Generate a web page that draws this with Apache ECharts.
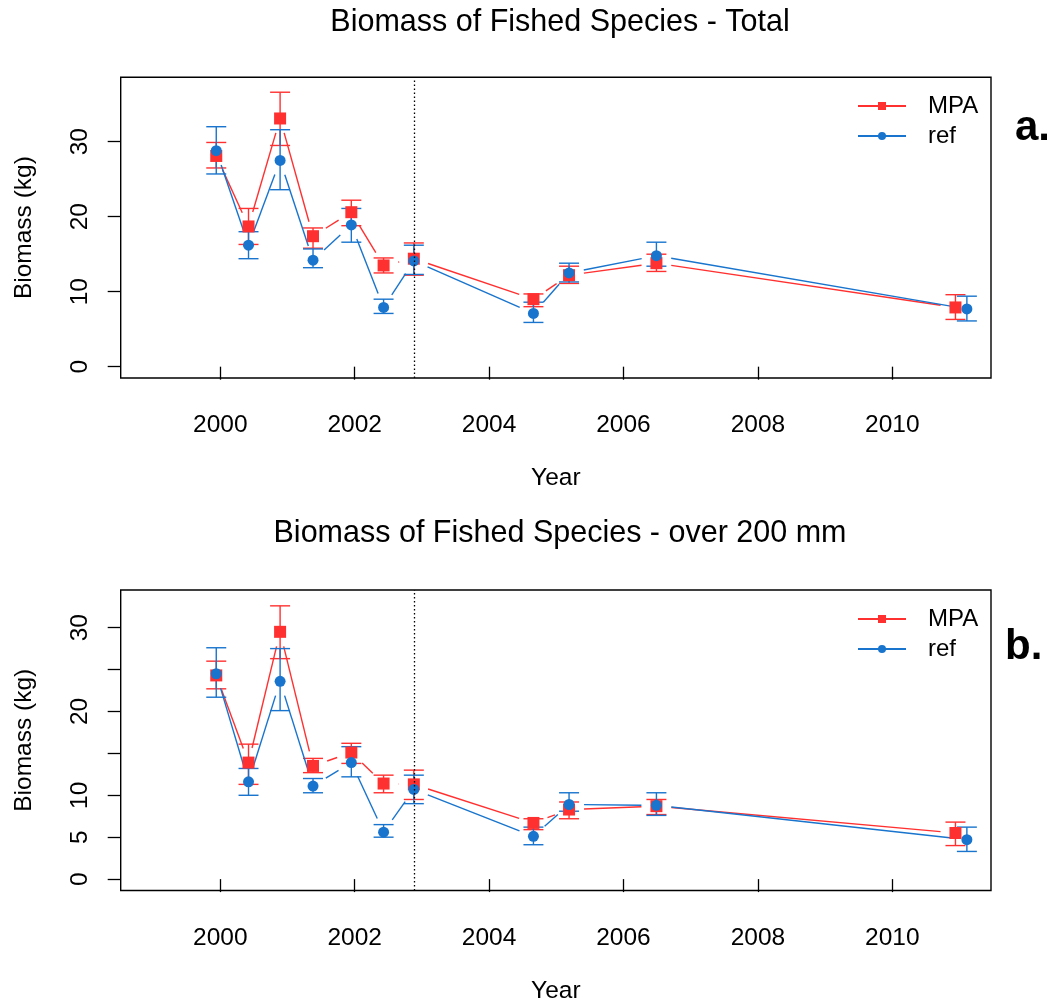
<!DOCTYPE html>
<html>
<head>
<meta charset="utf-8">
<script src="https://cdn.jsdelivr.net/npm/echarts@6/dist/echarts.min.js"></script>
<style>
html,body{margin:0;padding:0;background:#fff;}
#chart{width:1055px;height:1005px;}
</style>
</head>
<body>
<div id="chart"></div>
<script>
// ---- data ----
const yearsMPA = [1999.94, 2000.42, 2000.89, 2001.38, 2001.95, 2002.43, 2002.88, 2004.66, 2005.19, 2006.49, 2010.94];
const yearsRef = [1999.94, 2000.42, 2000.89, 2001.38, 2001.95, 2002.43, 2002.88, 2004.66, 2005.19, 2006.49, 2011.11];
const treatYear = 2002.875;

const mpaTotal   = [28.1, 18.7, 33.1, 17.4, 20.6, 13.5, 14.4, 9.0, 12.2, 13.8, 7.9];
const mpaTotalLo = [26.5, 16.3, 29.5, 15.8, 18.8, 12.5, 12.2, 8.0, 11.1, 12.7, 6.3];
const mpaTotalHi = [29.9, 21.1, 36.6, 18.5, 22.2, 14.5, 16.5, 9.7, 13.4, 15.0, 9.6];
const refTotal   = [28.8, 16.2, 27.5, 14.2, 18.9, 7.9, 14.1, 7.1, 12.5, 14.8, 7.7];
const refTotalLo = [25.7, 14.4, 23.6, 13.2, 16.6, 7.1, 12.3, 5.9, 11.3, 13.4, 6.1];
const refTotalHi = [32.0, 18.0, 31.6, 15.7, 21.1, 9.0, 16.2, 8.6, 13.8, 16.6, 9.4];

const mpa200   = [24.3, 13.9, 29.5, 13.5, 15.1, 11.4, 11.3, 6.7, 8.3, 8.7, 5.5];
const mpa200Lo = [22.7, 11.3, 26.3, 12.7, 13.8, 10.3, 9.5, 5.9, 7.2, 7.7, 4.0];
const mpa200Hi = [26.0, 16.1, 32.6, 14.4, 16.2, 12.4, 13.0, 7.2, 9.2, 9.5, 6.8];
const ref200   = [24.5, 11.6, 23.6, 11.1, 13.9, 5.6, 10.7, 5.1, 8.9, 8.8, 4.7];
const ref200Lo = [21.7, 10.0, 20.1, 10.3, 12.2, 5.0, 9.0, 4.1, 8.1, 7.6, 3.3];
const ref200Hi = [27.6, 13.2, 27.5, 12.0, 15.8, 6.5, 12.4, 6.2, 10.3, 10.3, 6.2];

const xTicks = [2000, 2002, 2004, 2006, 2008, 2010];
const yTicksTop = [0, 10, 20, 30];
const yTicksBottom = [0, 5, 10, 15, 20, 25, 30];
const yLabelsBottom = [0, 5, 10, 20, 30];

const titles = ['Biomass of Fished Species - Total', 'Biomass of Fished Species - over 200 mm'];
const panelTags = ['a.', 'b.'];

// ---- styles ----
const RED = '#FF3030';
const BLUE = '#1874CD';
const FONT = 'Liberation Sans';
const GAP = 15;

function zip(x, y) { return x.map((v, i) => [v, y[i]]); }
function segs(x, y) {
  const out = [];
  for (let i = 0; i < x.length - 1; i++) out.push([x[i], y[i], x[i + 1], y[i + 1]]);
  return out;
}
function errs(x, lo, hi) { return x.map((v, i) => [v, lo[i], hi[i]]); }

function segSeries(x, y, color, gi) {
  return {
    type: 'custom', xAxisIndex: gi, yAxisIndex: gi, silent: true,
    data: segs(x, y),
    encode: { x: [0, 2], y: [1, 3] },
    renderItem: function (params, api) {
      const p1 = api.coord([api.value(0), api.value(1)]);
      const p2 = api.coord([api.value(2), api.value(3)]);
      const dx = p2[0] - p1[0], dy = p2[1] - p1[1];
      const d = Math.sqrt(dx * dx + dy * dy);
      if (d <= 2 * GAP) return null;
      const ux = dx / d, uy = dy / d;
      return {
        type: 'line',
        shape: { x1: p1[0] + ux * GAP, y1: p1[1] + uy * GAP, x2: p2[0] - ux * GAP, y2: p2[1] - uy * GAP },
        style: { stroke: color, lineWidth: 1.4 }
      };
    }
  };
}
function errSeries(x, lo, hi, color, gi) {
  return {
    type: 'custom', xAxisIndex: gi, yAxisIndex: gi, silent: true,
    data: errs(x, lo, hi),
    encode: { x: 0, y: [1, 2] },
    renderItem: function (params, api) {
      const a = api.coord([api.value(0), api.value(1)]);
      const b = api.coord([api.value(0), api.value(2)]);
      const hw = 10;
      const st = { stroke: color, lineWidth: 1.4 };
      return {
        type: 'group',
        children: [
          { type: 'line', shape: { x1: a[0], y1: a[1], x2: b[0], y2: b[1] }, style: st },
          { type: 'line', shape: { x1: a[0] - hw, y1: a[1], x2: a[0] + hw, y2: a[1] }, style: st },
          { type: 'line', shape: { x1: b[0] - hw, y1: b[1], x2: b[0] + hw, y2: b[1] }, style: st }
        ]
      };
    }
  };
}
function markerSeries(name, x, y, color, symbol, size, gi, withLine) {
  const s = {
    name: name, type: 'line', xAxisIndex: gi, yAxisIndex: gi,
    data: zip(x, y), symbol: symbol, symbolSize: size, showSymbol: true,
    itemStyle: { color: color },
    lineStyle: { color: color, width: 0, opacity: 0 },
    silent: true
  };
  if (withLine) {
    s.markLine = {
      silent: true, symbol: 'none', label: { show: false },
      lineStyle: { type: [1.5, 2.5], color: '#000', width: 1.3 },
      data: [{ xAxis: treatYear }]
    };
  }
  return s;
}

const grids = [
  { left: 120.7, top: 77.3, width: 870.3, height: 300.7 },
  { left: 120.7, top: 590, width: 870.3, height: 300.5 }
];
const axisText = { fontFamily: FONT, fontSize: 24.5, color: '#000' };

const option = {
  animation: false,
  backgroundColor: '#fff',
  textStyle: { fontFamily: FONT },
  title: [
    { text: titles[0], left: 560, top: 7, padding: 0, textAlign: 'center',
      textStyle: { fontFamily: FONT, fontSize: 30.5, fontWeight: 'normal', color: '#000' } },
    { text: titles[1], left: 560, top: 518, padding: 0, textAlign: 'center',
      textStyle: { fontFamily: FONT, fontSize: 30.5, fontWeight: 'normal', color: '#000' } }
  ],
  grid: grids.map(g => Object.assign({ show: true, borderColor: '#000', borderWidth: 1.4, backgroundColor: 'transparent' }, g)),
  legend: [94, 607].map(t => ({
    orient: 'vertical', left: 857, top: t, padding: 0,
    itemWidth: 48, itemHeight: 10, itemGap: 6,
    data: ['MPA', 'ref'],
    lineStyle: { width: 2, opacity: 1 },
    textStyle: { fontFamily: FONT, fontSize: 24, color: '#000', lineHeight: 23, padding: [0, 0, 0, 17] },
    selectedMode: false
  })),
  xAxis: [0, 1].map(gi => ({
    gridIndex: gi, type: 'value', min: 1998.518, max: 2011.469,
    axisLine: { show: false },
    splitLine: { show: false },
    axisTick: { show: true, length: 13, customValues: xTicks, lineStyle: { color: '#000', width: 1.3 } },
    axisLabel: Object.assign({ customValues: xTicks, margin: 35, formatter: v => String(v) }, axisText),
    name: 'Year', nameLocation: 'middle', nameGap: 88, nameTextStyle: axisText
  })),
  yAxis: [0, 1].map(gi => ({
    gridIndex: gi, type: 'value',
    min: gi === 0 ? -1.51 : -1.36, max: gi === 0 ? 38.59 : 34.49,
    axisLine: { show: false },
    splitLine: { show: false },
    axisTick: { show: true, length: 13, customValues: gi === 0 ? yTicksTop : yTicksBottom, lineStyle: { color: '#000', width: 1.3 } },
    axisLabel: Object.assign({ customValues: gi === 0 ? yTicksTop : yLabelsBottom, margin: 28, rotate: 90, formatter: v => String(v) }, axisText),
    name: 'Biomass (kg)', nameLocation: 'middle', nameGap: 84, nameTextStyle: axisText
  })),
  graphic: [
    { type: 'text', left: 1015, top: 107, style: { text: panelTags[0], font: 'bold 42px "Liberation Sans"', fill: '#000' } },
    { type: 'text', left: 1005, top: 626, style: { text: panelTags[1], font: 'bold 42px "Liberation Sans"', fill: '#000' } }
  ],
  series: [
    segSeries(yearsMPA, mpaTotal, RED, 0),
    errSeries(yearsMPA, mpaTotalLo, mpaTotalHi, RED, 0),
    markerSeries('MPA', yearsMPA, mpaTotal, RED, 'rect', 12, 0, true),
    segSeries(yearsRef, refTotal, BLUE, 0),
    errSeries(yearsRef, refTotalLo, refTotalHi, BLUE, 0),
    markerSeries('ref', yearsRef, refTotal, BLUE, 'circle', 11, 0, false),

    segSeries(yearsMPA, mpa200, RED, 1),
    errSeries(yearsMPA, mpa200Lo, mpa200Hi, RED, 1),
    markerSeries('MPA', yearsMPA, mpa200, RED, 'rect', 12, 1, true),
    segSeries(yearsRef, ref200, BLUE, 1),
    errSeries(yearsRef, ref200Lo, ref200Hi, BLUE, 1),
    markerSeries('ref', yearsRef, ref200, BLUE, 'circle', 11, 1, false)
  ]
};

const chart = echarts.init(document.getElementById('chart'), null, { renderer: 'canvas' });
chart.setOption(option);
</script>
</body>
</html>
